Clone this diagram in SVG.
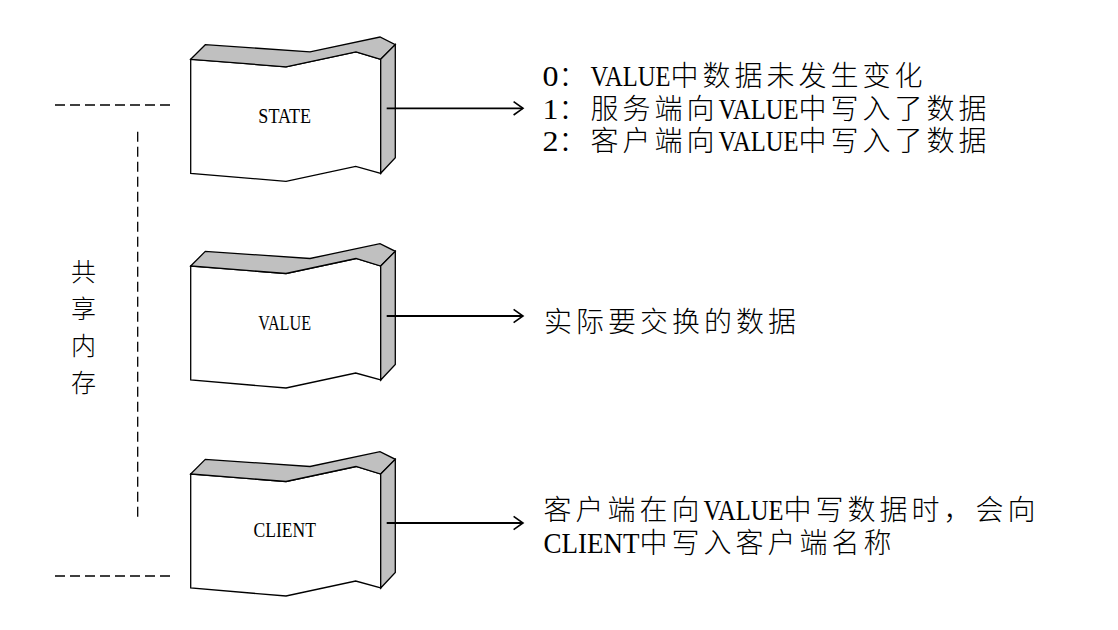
<svg xmlns="http://www.w3.org/2000/svg" xmlns:xlink="http://www.w3.org/1999/xlink" width="1118" height="630" viewBox="0 0 1118 630">
<style>
.face{fill:#ffffff;stroke:#000;stroke-width:1.3;stroke-linejoin:miter}
.shade{fill:#c0c0c0;stroke:#000;stroke-width:1.3;stroke-linejoin:miter}
.lbl{font-family:'Liberation Serif',serif;font-size:22px;fill:#000}
.dash{fill:none;stroke:#000;stroke-width:1.3;stroke-dasharray:10 5}
.conn{fill:none;stroke:#000;stroke-width:1.8}
.t{font-size:28px;fill:#000}
.cj{font-family:'Noto Sans CJK SC',sans-serif;font-size:28px;letter-spacing:4px;font-weight:300}
.la{font-family:'Liberation Serif',serif;font-size:30px;letter-spacing:0}
.vt{font-family:'Noto Sans CJK SC',sans-serif;font-size:25px;font-weight:300;fill:#000}
</style>
<defs>
<g id="blk">
<path class="face" d="M0,0 L95.3,7.5 L165.3,-7.5 L190,0 L190,114 L165,107 L95.3,122 L0,114 Z"/>
<path class="shade" d="M0,0 L14.6,-14.6 L119.3,-7.5 L189.3,-22.3 L204.6,-14.7 L190,0 L165.3,-7.5 L95.3,7.5 Z"/>
<path class="shade" d="M190,0 L204.6,-14.7 L204.6,98.5 L190,114 Z"/>
</g>
<marker id="arr" markerUnits="userSpaceOnUse" markerWidth="20" markerHeight="20" refX="0" refY="0" orient="auto" overflow="visible">
<path d="M-9.4,-6.7 L0,0 L-9.4,6.7" fill="none" stroke="#000" stroke-width="1.6"/>
</marker>
</defs>

<g id="shared-memory">
<line class="dash" x1="55" y1="105" x2="172" y2="105"/>
<line class="dash" x1="55" y1="576" x2="172" y2="576"/>
<line class="dash" x1="137.7" y1="131.7" x2="137.7" y2="520"/>
<text class="vt" text-anchor="middle"><tspan x="83.5" y="281">共</tspan><tspan x="83.5" y="318">享</tspan><tspan x="83.5" y="355">内</tspan><tspan x="83.5" y="392">存</tspan></text>
</g>

<g id="state" transform="translate(190.7,59.3)">
<use xlink:href="#blk" href="#blk"/>
<text class="lbl" x="94" y="64" text-anchor="middle" textLength="52.7" lengthAdjust="spacingAndGlyphs">STATE</text>
</g>

<g id="value" transform="translate(190.7,266)">
<use xlink:href="#blk" href="#blk"/>
<text class="lbl" x="94" y="64" text-anchor="middle" textLength="52.7" lengthAdjust="spacingAndGlyphs">VALUE</text>
</g>

<g id="client" transform="translate(190.7,474)">
<use xlink:href="#blk" href="#blk"/>
<text class="lbl" x="94" y="62.7" text-anchor="middle" textLength="62.4" lengthAdjust="spacingAndGlyphs">CLIENT</text>
</g>

<g id="connectors">
<line class="conn" x1="386.7" y1="108.3" x2="523" y2="108.3" marker-end="url(#arr)"/>
<line class="conn" x1="386.7" y1="316" x2="523" y2="316" marker-end="url(#arr)"/>
<line class="conn" x1="386.7" y1="523" x2="523" y2="523" marker-end="url(#arr)"/>
</g>

<g id="state-desc">
<text class="t" y="86"><tspan class="la" x="542.5" textLength="16" lengthAdjust="spacingAndGlyphs">0</tspan><tspan class="cj" x="558.5">：</tspan><tspan class="la" x="590.5" textLength="80" lengthAdjust="spacingAndGlyphs">VALUE</tspan><tspan class="cj" x="670.5">中数据未发生变化</tspan></text>
<text class="t" y="118.5"><tspan class="la" x="542.5" textLength="16" lengthAdjust="spacingAndGlyphs">1</tspan><tspan class="cj" x="558.5">：服务端向</tspan><tspan class="la" x="718.5" textLength="80" lengthAdjust="spacingAndGlyphs">VALUE</tspan><tspan class="cj" x="798.5">中写入了数据</tspan></text>
<text class="t" y="151"><tspan class="la" x="542.5" textLength="16" lengthAdjust="spacingAndGlyphs">2</tspan><tspan class="cj" x="558.5">：客户端向</tspan><tspan class="la" x="718.5" textLength="80" lengthAdjust="spacingAndGlyphs">VALUE</tspan><tspan class="cj" x="798.5">中写入了数据</tspan></text>
</g>

<g id="value-desc">
<text class="t" y="332"><tspan class="cj" x="544">实际要交换的数据</tspan></text>
</g>

<g id="client-desc">
<text class="t" y="520"><tspan class="cj" x="543.5">客户端在向</tspan><tspan class="la" x="703.5" textLength="80" lengthAdjust="spacingAndGlyphs">VALUE</tspan><tspan class="cj" x="783.5">中写数据时，会向</tspan></text>
<text class="t" y="553"><tspan class="la" x="543.5" textLength="96" lengthAdjust="spacingAndGlyphs">CLIENT</tspan><tspan class="cj" x="639.5">中写入客户端名称</tspan></text>
</g>
</svg>
